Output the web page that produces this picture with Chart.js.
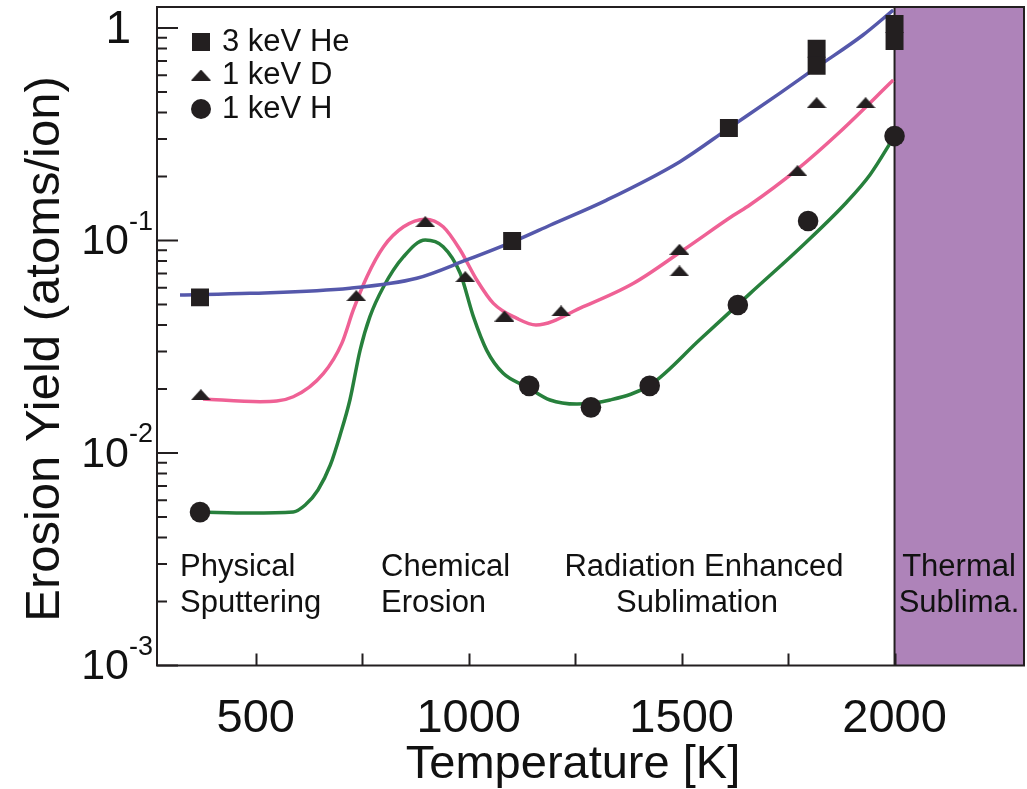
<!DOCTYPE html>
<html><head><meta charset="utf-8">
<script src="https://cdn.jsdelivr.net/npm/chart.js@4.4.1/dist/chart.umd.min.js"></script>
<style>html,body{margin:0;padding:0;background:#fff;overflow:hidden}#wrap{width:1027px;height:789px;position:relative}</style>
</head><body><div id="wrap"><canvas id="c" width="1027" height="789"></canvas></div>
<script>
// ---- measured markers ----
const heT = [369, 1102, 1611, 1817, 1817, 2000, 2000];
const heY = [0.054, 0.0995, 0.338, 0.798, 0.664, 1.045, 0.868];
const dT = [371, 736, 898, 992, 1084, 1217, 1495, 1495, 1772, 1817, 1932];
const dY = [0.0188, 0.055, 0.1226, 0.0676, 0.0441, 0.0466, 0.0909, 0.0719, 0.213, 0.445, 0.445];
const hT = [369, 1142, 1287, 1425, 1632, 1797, 2000];
const hY = [0.00527, 0.0207, 0.0164, 0.0207, 0.0497, 0.1235, 0.310];
// ---- fitted curves ----
const heFitT = [322, 487, 721, 878, 995, 1113, 1191, 1324, 1496, 1611, 1731, 1818, 1926, 1997];
const heFitY = [0.0554, 0.0564, 0.0596, 0.0664, 0.081, 0.1005, 0.118, 0.155, 0.235, 0.338, 0.494, 0.655, 0.927, 1.215];
const dFitT = [376, 510, 588, 659, 702, 729, 761, 800, 847, 898, 940, 980, 1019, 1058, 1113, 1158, 1269, 1387, 1504, 1621, 1660, 1770, 1872, 1997];
const dFitY = [0.01795, 0.01743, 0.0184, 0.0237, 0.0328, 0.0471, 0.0676, 0.0935, 0.116, 0.126, 0.116, 0.0902, 0.0652, 0.0506, 0.043, 0.040, 0.0488, 0.0629, 0.0902, 0.131, 0.147, 0.215, 0.325, 0.569];
const hFitT = [369, 487, 588, 616, 646, 675, 698, 721, 745, 768, 800, 847, 898, 940, 980, 1011, 1042, 1081, 1136, 1191, 1254, 1332, 1426, 1543, 1661, 1778, 1888, 1942, 2000];
const hFitY = [0.00527, 0.00522, 0.00528, 0.00569, 0.0067, 0.00878, 0.01216, 0.01776, 0.0305, 0.0438, 0.0606, 0.0839, 0.1005, 0.0935, 0.0701, 0.0438, 0.0305, 0.0237, 0.0205, 0.01776, 0.017, 0.01776, 0.0209, 0.0342, 0.0564, 0.0922, 0.1518, 0.2033, 0.31];
// ---- axes ----
const xTickValues = [500, 750, 1000, 1250, 1500, 1750, 2000];
const xTickLabels = [500, 1000, 1500, 2000];
const yMajorTicks = [0.001, 0.01, 0.1, 1];
const yTickExponents = [-3, -2, -1, 0];
const seriesNames = ['3 keV He', '1 keV D', '1 keV H'];
const thermalStart = 2000;
const regionLabels = [['Physical', 'Sputtering'], ['Chemical', 'Erosion'], ['Radiation Enhanced', 'Sublimation'], ['Thermal', 'Sublima.']];

const FONT = '"Liberation Sans", Arial, Helvetica, sans-serif';
const INK = '#231f20';
const pts = (xs, ys) => xs.map((x, i) => ({x: x, y: ys[i]}));

const tri = document.createElement('canvas');
tri.width = 20; tri.height = 11;
(function(){const g = tri.getContext('2d'); g.fillStyle = INK; g.beginPath(); g.moveTo(0, 11); g.lineTo(10, 0); g.lineTo(20, 11); g.closePath(); g.fill();})();

const decor = {
  id: 'decor',
  beforeDatasetsDraw(chart) {
    const {ctx, chartArea: a, scales: {x}} = chart;
    const x0 = x.getPixelForValue(thermalStart);
    ctx.save();
    ctx.fillStyle = '#ae83b9';
    ctx.fillRect(x0, a.top, a.right - x0, a.bottom - a.top);
    ctx.strokeStyle = INK; ctx.lineWidth = 2;
    ctx.beginPath(); ctx.moveTo(x0, a.top); ctx.lineTo(x0, a.bottom); ctx.stroke();
    ctx.restore();
  },
  afterDatasetsDraw(chart) {
    const {ctx, chartArea: a, scales: {x, y}} = chart;
    ctx.save();
    ctx.strokeStyle = INK; ctx.lineWidth = 2;
    ctx.strokeRect(a.left, a.top, a.right - a.left, a.bottom - a.top);
    ctx.beginPath();
    xTickValues.forEach(v => { const px = Math.round(x.getPixelForValue(v)) + 0.5; ctx.moveTo(px, a.bottom); ctx.lineTo(px, a.bottom - 12); });
    yMajorTicks.forEach((v) => {
      const py = y.getPixelForValue(v);
      ctx.moveTo(a.left, py); ctx.lineTo(a.left + 21, py);
      for (let m = 2; m <= 9; m++) {
        const mv = v * m; if (mv > y.max) break;
        const q = y.getPixelForValue(mv);
        ctx.moveTo(a.left, q); ctx.lineTo(a.left + 10, q);
      }
    });
    ctx.stroke();
    ctx.fillStyle = '#111';
    ctx.font = '47px ' + FONT;
    ctx.textAlign = 'center'; ctx.textBaseline = 'middle';
    xTickLabels.forEach(v => ctx.fillText(String(v), x.getPixelForValue(v), 719));
    yMajorTicks.forEach((v, i) => {
      const py = y.getPixelForValue(v);
      const e = yTickExponents[i];
      if (e === 0) {
        ctx.font = '46px ' + FONT; ctx.textAlign = 'right'; ctx.textBaseline = 'middle';
        ctx.fillText('1', 131, py + 2);
      } else {
        ctx.font = '27px ' + FONT; ctx.textAlign = 'right'; ctx.textBaseline = 'middle';
        const sup = String(e);
        const sw = ctx.measureText(sup).width;
        ctx.fillText(sup, 153, py - 18);
        ctx.font = '43px ' + FONT;
        ctx.fillText('10', 153 - sw, py + 2);
      }
    });
    ctx.font = '47px ' + FONT; ctx.textAlign = 'center'; ctx.textBaseline = 'middle';
    ctx.fillText('Temperature [K]', 573, 765);
    ctx.font = '49px ' + FONT;
    ctx.save(); ctx.translate(45, 349); ctx.rotate(-Math.PI / 2);
    ctx.fillText('Erosion Yield (atoms/ion)', 0, 0); ctx.restore();
    ctx.font = '31px ' + FONT; ctx.textBaseline = 'middle';
    ctx.textAlign = 'left';
    ctx.fillText(regionLabels[0][0], 180, 567); ctx.fillText(regionLabels[0][1], 180, 603);
    ctx.fillText(regionLabels[1][0], 381, 567); ctx.fillText(regionLabels[1][1], 381, 603);
    ctx.textAlign = 'center';
    ctx.fillText(regionLabels[2][0], 704, 567); ctx.fillText(regionLabels[2][1], 697, 603);
    ctx.fillText(regionLabels[3][0], 959, 567); ctx.fillText(regionLabels[3][1], 959, 603);
    ctx.fillStyle = INK;
    ctx.fillRect(201 - 9, 42 - 9, 18, 18);
    ctx.drawImage(tri, 201 - 10, 75 - 5.5);
    ctx.beginPath(); ctx.arc(201, 109, 10, 0, Math.PI * 2); ctx.fill();
    ctx.fillStyle = '#111'; ctx.textAlign = 'left'; ctx.font = '31px ' + FONT;
    ctx.fillText(seriesNames[0], 222, 42); ctx.fillText(seriesNames[1], 222, 75); ctx.fillText(seriesNames[2], 222, 109);
    ctx.restore();
  }
};

new Chart(document.getElementById('c'), {
  type: 'scatter',
  data: {
    datasets: [
      {label: seriesNames[0], data: pts(heT, heY), pointStyle: 'rect', pointRadius: 12.7, backgroundColor: INK, borderWidth: 0, showLine: false},
      {label: seriesNames[1], data: pts(dT, dY), pointStyle: tri, pointRadius: 10, backgroundColor: INK, borderWidth: 0, showLine: false},
      {label: seriesNames[2], data: pts(hT, hY), pointStyle: 'circle', pointRadius: 10.3, backgroundColor: INK, borderWidth: 0, showLine: false},
      {label: 'He fit', data: pts(heFitT, heFitY), showLine: true, borderColor: '#5558ab', borderWidth: 3.5, pointRadius: 0, cubicInterpolationMode: 'monotone', fill: false},
      {label: 'D fit', data: pts(dFitT, dFitY), showLine: true, borderColor: '#ef6195', borderWidth: 3.5, pointRadius: 0, cubicInterpolationMode: 'monotone', fill: false},
      {label: 'H fit', data: pts(hFitT, hFitY), showLine: true, borderColor: '#27803c', borderWidth: 3.5, pointRadius: 0, cubicInterpolationMode: 'monotone', fill: false}
    ]
  },
  options: {
    responsive: false, animation: false, devicePixelRatio: 1,
    layout: {autoPadding: false, padding: {top: 7, right: 3, left: 0, bottom: 0}},
    plugins: {legend: {display: false}, tooltip: {enabled: false}},
    scales: {
      x: {type: 'linear', min: 268, max: 2304, grid: {display: false}, border: {display: false}, ticks: {display: false}, afterFit: s => { s.height = 123.5; }},
      y: {type: 'logarithmic', min: 0.001, max: 1.2555, grid: {display: false}, border: {display: false}, ticks: {display: false}, afterFit: s => { s.width = 157; }}
    }
  },
  plugins: [decor]
});
</script></body></html>
